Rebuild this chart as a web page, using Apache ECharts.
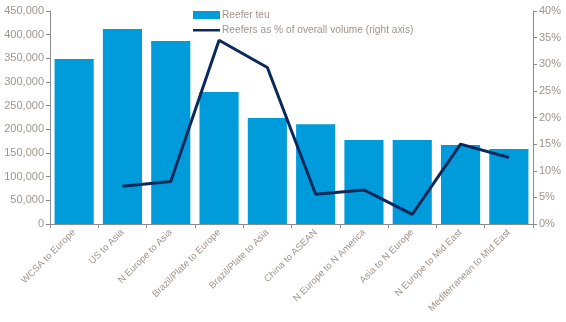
<!DOCTYPE html>
<html><head><meta charset="utf-8">
<script src="https://cdn.jsdelivr.net/npm/echarts@6/dist/echarts.min.js"></script>
<style>html,body{margin:0;padding:0;background:#fff}#c{width:566px;height:322px}</style>
</head><body><div id="c"></div>
<script>
const categories = ["WCSA to Europe","US to Asia","N Europe to Asia","Brazil/Plate to Europe","Brazil/Plate to Asia","China to ASEAN","N Europe to N America","Asia to N Europe","N Europe to Mid East","Mediterranean to Mid East"];
const reeferTeu = [348500, 412000, 386500, 279000, 224000, 211000, 177500, 177500, 167000, 158500];
const reeferPct = [null, 7.1, 8.0, 34.5, 29.4, 5.6, 6.4, 1.8, 15.0, 12.5];
const leftTicks = {min: 0, max: 450000, interval: 50000};
const rightTicks = {min: 0, max: 40, interval: 5};

const txt = '#A0958C', axisCol = '#8c8c8c';
const chart = echarts.init(document.getElementById('c'));
chart.setOption({
  animation: false,
  textStyle: {fontFamily: 'Liberation Sans, Arial, sans-serif'},
  grid: {left: 50, right: 33, top: 11, bottom: 98},
  legend: {
    orient: 'vertical', left: 188, top: 5, itemGap: 5, itemWidth: 27, itemHeight: 8,
    textStyle: {color: txt, fontSize: 10.2, padding: [0,0,0,-3]},
    data: [
      {name: 'Reefer teu', icon: 'rect'},
      {name: 'Reefers as % of overall volume (right axis)',
       icon: 'path://M0,0L0,0M0,3L27,3L27,5.5L0,5.5ZM27,8L27,8'}
    ]
  },
  xAxis: {
    type: 'category', data: categories,
    axisLine: {lineStyle: {color: axisCol, width: 1}},
    axisTick: {show: true, alignWithLabel: false, length: 4, lineStyle: {color: axisCol}},
    axisLabel: {rotate: 45, color: txt, fontSize: 9.5, interval: 0, margin: 7}
  },
  yAxis: [{
    type: 'value', min: leftTicks.min, max: leftTicks.max, interval: leftTicks.interval,
    axisLine: {show: true, lineStyle: {color: axisCol}},
    axisTick: {show: true, length: 4, lineStyle: {color: axisCol}},
    splitLine: {show: false},
    axisLabel: {color: txt, fontSize: 11, margin: 6,
      formatter: v => v.toLocaleString('en-US')}
  }, {
    type: 'value', position: 'right', min: rightTicks.min, max: rightTicks.max, interval: rightTicks.interval,
    axisLine: {show: true, lineStyle: {color: axisCol}},
    axisTick: {show: true, length: 4, lineStyle: {color: axisCol}},
    splitLine: {show: false},
    axisLabel: {color: txt, fontSize: 11, margin: 6, formatter: '{value}%'}
  }],
  series: [{
    name: 'Reefer teu', type: 'bar', data: reeferTeu, barCategoryGap: '19%',
    itemStyle: {color: '#009BDB'}
  }, {
    name: 'Reefers as % of overall volume (right axis)', type: 'line', yAxisIndex: 1,
    data: reeferPct, symbol: 'none', connectNulls: false,
    lineStyle: {color: '#0B2A5B', width: 3},
    itemStyle: {color: '#0B2A5B'}
  }]
});
</script></body></html>
